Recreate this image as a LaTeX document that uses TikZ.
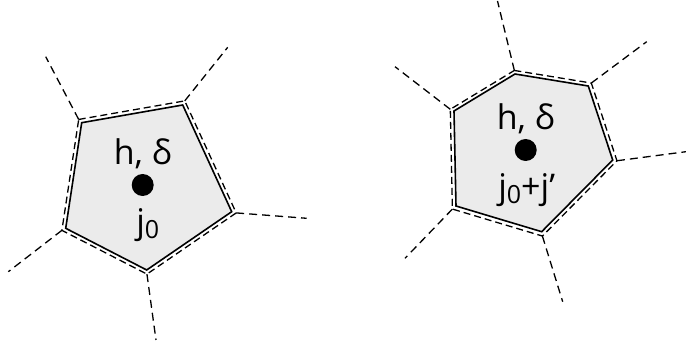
\documentclass[tikz,border=0pt]{standalone}
\usepackage{fontspec}
\setmainfont{Open Sans}
\usetikzlibrary{calc}
\definecolor{cellgray}{RGB}{235,235,235}
\begin{document}
\begin{tikzpicture}[x=1pt,y=-1pt,
  cell/.style={fill=cellgray,draw=black,line width=1.6pt,line join=miter},
  wall/.style={draw=black,line width=1.3pt,dash pattern=on 7pt off 4pt},
  ray/.style={draw=black,line width=1.3pt,dash pattern=on 8pt off 5pt},
  lbl/.style={font=\fontsize{34}{36}\selectfont,inner sep=0pt,anchor=base},
  dotst/.style={circle,fill=black,minimum size=22pt,inner sep=0pt}]
\useasboundingbox (0,0) rectangle (686,347);
% ---------- left cell (pentagon) ----------
\coordinate (cL) at (141.7,187.5);
\coordinate (L1) at (81.7,122.7);
\coordinate (L2) at (182.7,105);
\coordinate (L3) at (231.7,211.7);
\coordinate (L4) at (146.7,270);
\coordinate (L5) at (65.7,228.3);
\foreach \i in {1,...,5}{\coordinate (oL\i) at ($(cL)!1.05!(L\i)$);}
\coordinate (eL1) at (45.7,56.7);
\coordinate (eL2) at (227.7,47.3);
\coordinate (eL3) at (306.7,218.3);
\coordinate (eL4) at (156,340);
\coordinate (eL5) at (8.3,271.7);
\path[cell] (L1) -- (L2) -- (L3) -- (L4) -- (L5) -- cycle;
\path[wall] (oL1) -- (oL2) -- (oL3) -- (oL4) -- (oL5) -- cycle;
\foreach \i in {1,...,5}{\path[ray] (oL\i) -- (eL\i);}
\node[dotst] (dL) at (142.7,185) {};
\node[lbl] (hL) at ($(dL)+(0,-20)$) {h, δ};
\node[lbl] (jL) at ($(dL)+(5,49)$) {j\raisebox{-5pt}{\fontsize{25}{25}\selectfont 0}};
% ---------- right cell (hexagon) ----------
\coordinate (cR) at (527.9,144.8);
\coordinate (R1) at (515,74);
\coordinate (R2) at (588.3,86);
\coordinate (R3) at (612.7,160);
\coordinate (R4) at (541.7,231.7);
\coordinate (R5) at (456,206);
\coordinate (R6) at (454,111);
\foreach \i in {1,...,6}{\coordinate (oR\i) at ($(cR)!1.05!(R\i)$);}
\coordinate (eR1) at (497.5,1);
\coordinate (eR2) at (646.7,41.7);
\coordinate (eR3) at (686,151.7);
\coordinate (eR4) at (562.7,301.7);
\coordinate (eR5) at (405,258.3);
\coordinate (eR6) at (395,66.7);
\path[cell] (R1) -- (R2) -- (R3) -- (R4) -- (R5) -- (R6) -- cycle;
\path[wall] (oR1) -- (oR2) -- (oR3) -- (oR4) -- (oR5) -- (oR6) -- cycle;
\foreach \i in {1,...,6}{\path[ray] (oR\i) -- (eR\i);}
\node[dotst] (dR) at (525.7,150) {};
\node[lbl] (hR) at ($(dR)+(0,-20)$) {h, δ};
\node[lbl] (jR) at ($(dR)+(1,49)$) {j\raisebox{-5pt}{\fontsize{25}{25}\selectfont 0}+j’};
\end{tikzpicture}
\end{document}
